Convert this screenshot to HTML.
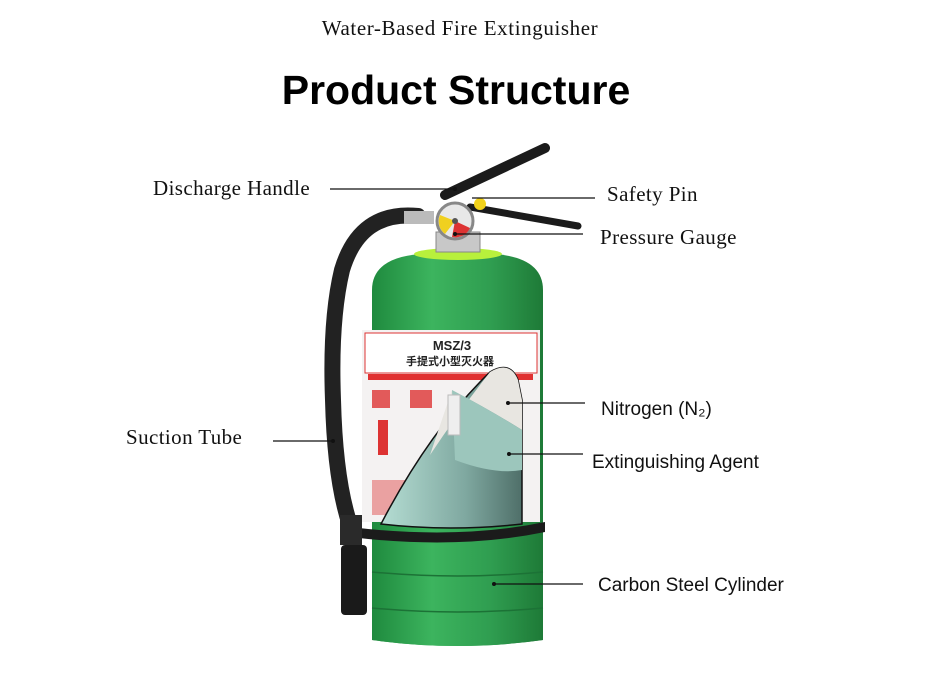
<!DOCTYPE html>
<html><head><meta charset="utf-8"><style>
html,body{margin:0;padding:0;background:#fff;}
svg{display:block}
.ser{font-family:"Liberation Serif",serif;font-size:21px;letter-spacing:0.4px;fill:#111}
.san{font-family:"Liberation Sans",sans-serif;font-size:19px;fill:#111}
</style></head><body>
<svg width="925" height="673" viewBox="0 0 925 673" xmlns="http://www.w3.org/2000/svg">
<defs>
<linearGradient id="g" x1="0" x2="1"><stop offset="0" stop-color="#1f8a3e"/><stop offset=".35" stop-color="#3cb45e"/><stop offset=".7" stop-color="#2f9d50"/><stop offset="1" stop-color="#1e7a37"/></linearGradient>
<linearGradient id="t" x1="0" x2="1"><stop offset="0" stop-color="#b5ddd3"/><stop offset=".6" stop-color="#7fa8a0"/><stop offset="1" stop-color="#4f6f69"/></linearGradient>
</defs>
<text x="460" y="35" text-anchor="middle" class="ser" style="font-size:21px;letter-spacing:0.6px">Water-Based Fire Extinguisher</text>
<text x="456" y="104" text-anchor="middle" style="font-family:'Liberation Sans',sans-serif;font-weight:bold;font-size:41px;fill:#000">Product Structure</text>
<!-- body -->
<path d="M372 290 Q372 258 420 254 L495 254 Q543 258 543 290 L543 640 Q458 652 372 640 Z" fill="url(#g)"/>
<ellipse cx="458" cy="254" rx="44" ry="6" fill="#b8f03c"/>
<rect x="436" y="232" width="44" height="20" fill="#c8c8c8" stroke="#888"/>
<!-- label -->
<rect x="362" y="330" width="178" height="192" fill="#f4f2f2"/>
<rect x="365" y="333" width="172" height="40" fill="#fff" stroke="#d33" stroke-width="1"/>
<text x="452" y="350" text-anchor="middle" style="font-family:'Liberation Sans',sans-serif;font-size:13px;font-weight:bold;fill:#222">MSZ/3</text>
<text x="450" y="365" text-anchor="middle" style="font-family:'Liberation Sans','Noto Sans CJK SC',sans-serif;font-size:11px;font-weight:bold;fill:#222">手提式小型灭火器</text>
<rect x="368" y="374" width="165" height="6" fill="#e03030"/>
<rect x="372" y="390" width="18" height="18" fill="#d33" opacity=".8"/>
<rect x="410" y="390" width="22" height="18" fill="#d33" opacity=".8"/>
<rect x="378" y="420" width="10" height="35" fill="#d33"/>
<rect x="372" y="480" width="60" height="35" fill="#e05050" opacity=".5"/>
<!-- cutaway -->
<path d="M381 524 Q430 430 490 372 Q510 360 518 380 L522 400 L522 524 Q450 532 381 524 Z" fill="url(#t)" stroke="#111" stroke-width="1.5"/>
<path d="M430 455 Q460 410 490 372 Q510 360 518 380 L522 400 L522 430 Q490 410 452 390 Z" fill="#e8e6e1"/>
<path d="M452 390 Q490 410 522 430 L522 470 Q495 475 455 460 Z" fill="#9cc6bc"/>
<rect x="448" y="395" width="12" height="40" fill="#eee" stroke="#bbb"/>
<!-- bottom band -->
<path d="M372 535 L543 535 L543 640 Q458 652 372 640 Z" fill="url(#g)"/>
<path d="M372 572 Q458 580 543 572 M372 608 Q458 616 543 608" stroke="#1c7236" fill="none" stroke-width="1.5"/>
<path d="M350 527 Q458 540 545 522 L545 532 Q458 550 350 537 Z" fill="#1b1b1b"/>
<!-- hose -->
<path d="M418 216 Q360 210 342 270 Q330 320 333 400 Q335 480 350 525" stroke="#222" stroke-width="16" fill="none" stroke-linecap="round"/>
<rect x="404" y="211" width="30" height="13" fill="#bbb"/>
<rect x="340" y="515" width="22" height="30" fill="#2a2a2a"/>
<rect x="341" y="545" width="26" height="70" rx="4" fill="#1a1a1a"/>
<!-- handles -->
<path d="M445 195 L545 148" stroke="#1b1b1b" stroke-width="10" stroke-linecap="round"/>
<path d="M470 207 L578 226" stroke="#1b1b1b" stroke-width="7" stroke-linecap="round"/>
<circle cx="480" cy="204" r="6" fill="#f2d21a"/>
<circle cx="455" cy="221" r="18" fill="#e8e8e8" stroke="#888" stroke-width="3"/>
<path d="M455 221 L440 215 A16 16 0 0 0 445 234 Z" fill="#f0d020"/>
<path d="M455 221 L452 237 A16 16 0 0 0 470 228 Z" fill="#d33"/>
<circle cx="455" cy="221" r="3" fill="#555"/>
<!-- leader lines -->
<g stroke="#111" stroke-width="1.3">
<line x1="330" y1="189" x2="455" y2="189"/>
<line x1="472" y1="198" x2="595" y2="198"/>
<line x1="455" y1="234" x2="583" y2="234"/>
<line x1="508" y1="403" x2="585" y2="403"/>
<line x1="509" y1="454" x2="583" y2="454"/>
<line x1="494" y1="584" x2="583" y2="584"/>
<line x1="273" y1="441" x2="333" y2="441"/>
</g>
<g fill="#111"><circle cx="508" cy="403" r="2"/><circle cx="509" cy="454" r="2"/><circle cx="494" cy="584" r="2"/><circle cx="333" cy="441" r="2"/><circle cx="455" cy="189" r="2"/><circle cx="455" cy="234" r="2"/></g>
<text x="153" y="195" class="ser">Discharge Handle</text>
<text x="607" y="201" class="ser">Safety Pin</text>
<text x="600" y="244" class="ser">Pressure Gauge</text>
<text x="126" y="444" class="ser">Suction Tube</text>
<text x="601" y="415" class="san">Nitrogen (N₂)</text>
<text x="592" y="468" class="san">Extinguishing Agent</text>
<text x="598" y="591" class="san">Carbon Steel Cylinder</text>
</svg>
</body></html>
